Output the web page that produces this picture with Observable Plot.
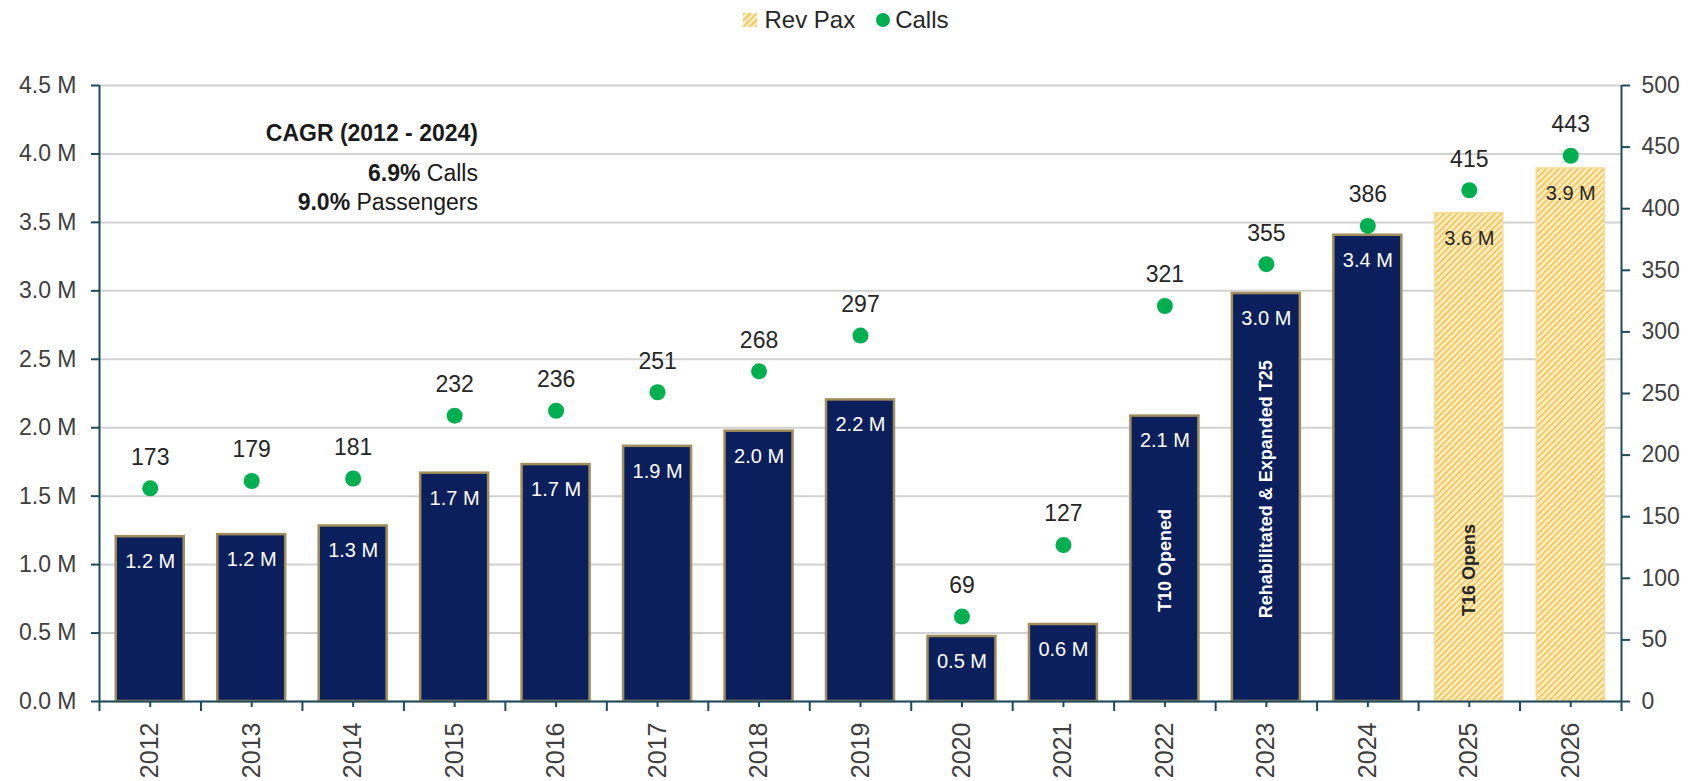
<!DOCTYPE html>
<html>
<head>
<meta charset="utf-8">
<script src="https://cdn.jsdelivr.net/npm/d3@7"></script>
<script src="https://cdn.jsdelivr.net/npm/@observablehq/plot@0.6"></script>
<style>
  html, body { margin: 0; padding: 0; background: #fff; }
  body { font-family: "Liberation Sans", Arial, sans-serif; color: #262626; width: 1692px; }
  #legend { height: 40px; display: flex; justify-content: center; align-items: center; font-size: 24px; color: #262626; }
  #legend .item { display: flex; align-items: center; }
  #legend .sw { width: 14px; height: 14px; margin-right: 7px; }
  #legend .dot { width: 14px; height: 14px; border-radius: 50%; background: #00b050; margin-right: 5px; margin-left: 21px; }
  #chart svg { display: block; }
</style>
</head>
<body>
<svg width="0" height="0" style="position:absolute">
  <defs>
    <pattern id="hatch" patternUnits="userSpaceOnUse" width="4.5" height="4.5" patternTransform="rotate(45)">
      <rect width="4.5" height="4.5" fill="#fdedc0"></rect>
      <line x1="1" y1="0" x2="1" y2="4.5" stroke="#f1c45a" stroke-width="1.7"></line>
    </pattern>
  </defs>
</svg>
<div id="legend">
  <div class="item"><svg class="sw" width="14" height="14"><rect width="14" height="14" fill="url(#hatch)"></rect></svg><span>Rev Pax</span></div>
  <div class="item"><div class="dot"></div><span>Calls</span></div>
</div>
<div id="chart"></div>
<script>
// ---- data ----
const years = [2012, 2013, 2014, 2015, 2016, 2017, 2018, 2019, 2020, 2021, 2022, 2023, 2024, 2025, 2026];
const revPax = [1.204, 1.219, 1.282, 1.668, 1.731, 1.864, 1.975, 2.203, 0.475, 0.5625, 2.085, 2.98, 3.406, 3.567, 3.894];
const calls = [173, 179, 181, 232, 236, 251, 268, 297, 69, 127, 321, 355, 386, 415, 443];
const isForecast = [false, false, false, false, false, false, false, false, false, false, false, false, false, true, true];
const leftTicks = [0, 0.5, 1, 1.5, 2, 2.5, 3, 3.5, 4, 4.5];
const rightTicks = [0, 50, 100, 150, 200, 250, 300, 350, 400, 450, 500];
const noteYears = [2022, 2023, 2025];
const noteTexts = ["T10 Opened", "Rehabilitated & Expanded T25", "T16 Opens"];
const noteAt = [1.03, 1.55, 0.96];
const cagrBold = ["CAGR (2012 - 2024)", "6.9%", "9.0%"];
const cagrRest = ["", " Calls", " Passengers"];
const cagrAt = [4.149, 3.857, 3.645];

// ---- build ----
const leftMax = 4.5, rightMax = 500;
const k = leftMax / rightMax;
const navy = "#0b1f5c", teal = "#1f4a5c", green = "#00b050", ink = "#262626";
const data = years.map((year, i) => ({ i, year, pax: revPax[i], calls: calls[i], forecast: isForecast[i] }));
const actual = data.filter(d => !d.forecast);
const future = data.filter(d => d.forecast);
const notes = noteYears.map((y, j) => ({ i: years.indexOf(y), text: noteTexts[j], y: noteAt[j], forecast: isForecast[years.indexOf(y)] }));
const half = 0.335;

const plot = Plot.plot({
  width: 1692,
  height: 741,
  marginLeft: 99,
  marginRight: 71,
  marginTop: 45,
  marginBottom: 80,
  x: { domain: [-0.5, years.length - 0.5], label: null },
  y: { domain: [0, leftMax], label: null },
  style: { fontFamily: "Liberation Sans, Arial, sans-serif", fontSize: "23px", color: ink, background: "#fff" },
  marks: [
    Plot.gridY(leftTicks, { stroke: "#d2d2d2", strokeOpacity: 1, strokeWidth: 2 }),
    Plot.rectY(actual, { x1: d => d.i - half, x2: d => d.i + half, y1: 0, y2: "pax", fill: navy, stroke: "#a08d5a", strokeWidth: 2.5 }),
    Plot.rectY(future, { x1: d => d.i - half, x2: d => d.i + half, y1: 0, y2: "pax", fill: "url(#hatch)", stroke: "#f6dc98", strokeWidth: 1.5 }),
    Plot.text(actual, { x: "i", y: "pax", text: d => d3.format(".1f")(d.pax) + " M", dy: 25, fill: "#fff", fontSize: 20 }),
    Plot.text(future, { x: "i", y: "pax", text: d => d3.format(".1f")(d.pax) + " M", dy: 25, fill: ink, fontSize: 20 }),
    Plot.text(notes.filter(d => !d.forecast), { x: "i", y: "y", text: "text", rotate: -90, fill: "#fff", fontWeight: "bold", fontSize: 18 }),
    Plot.text(notes.filter(d => d.forecast), { x: "i", y: "y", text: "text", rotate: -90, fill: ink, fontWeight: "bold", fontSize: 18 }),
    Plot.dot(data, { x: "i", y: d => d.calls * k, r: 8, fill: green, stroke: "none" }),
    Plot.text(data, { x: "i", y: d => d.calls * k, text: d => String(d.calls), dy: -31, fill: ink, fontSize: 23 }),
    Plot.axisY(leftTicks, { anchor: "left", label: null, tickSize: 8, tickPadding: 15, tickFormat: d => d.toFixed(1) + " M", stroke: teal, strokeWidth: 2, fill: "#404040", fontSize: 23 }),
    Plot.axisY(rightTicks.map(v => v * k), { anchor: "right", label: null, tickSize: 8, tickPadding: 12, tickFormat: d => String(Math.round(d / k)), stroke: teal, strokeWidth: 2, fill: "#404040", fontSize: 23 }),
    Plot.axisX(d3.range(years.length), { anchor: "bottom", label: null, tickSize: 6, tickPadding: 15, tickRotate: -90, tickFormat: i => String(years[i]), stroke: teal, strokeWidth: 2, fill: "#404040", fontSize: 25 }),
    Plot.axisX(d3.range(years.length + 1).map(i => i - 0.5), { anchor: "bottom", label: null, tickSize: 10, tickFormat: () => "", stroke: teal, strokeWidth: 2 }),
    Plot.ruleX([-0.5, years.length - 0.5], { stroke: teal, strokeWidth: 2 }),
    Plot.ruleY([0], { stroke: teal, strokeWidth: 2 })
  ]
});

document.getElementById("chart").appendChild(plot);

// CAGR annotation (mixed bold/regular), placed through the plot's scales
const sx = plot.scale("x"), sy = plot.scale("y");
const ax = sx.apply(3.235);
const svg = d3.select(plot);
cagrBold.forEach((b, j) => {
  const t = svg.append("text")
    .attr("x", ax)
    .attr("y", sy.apply(cagrAt[j]))
    .attr("dy", "0.35em")
    .attr("text-anchor", "end")
    .attr("fill", "#1a1a1a")
    .style("font-family", "Liberation Sans, Arial, sans-serif")
    .style("font-size", "23px");
  t.append("tspan").attr("font-weight", "bold").text(b);
  if (cagrRest[j]) t.append("tspan").attr("font-weight", "normal").text(cagrRest[j]);
});
</script>
</body>
</html>
